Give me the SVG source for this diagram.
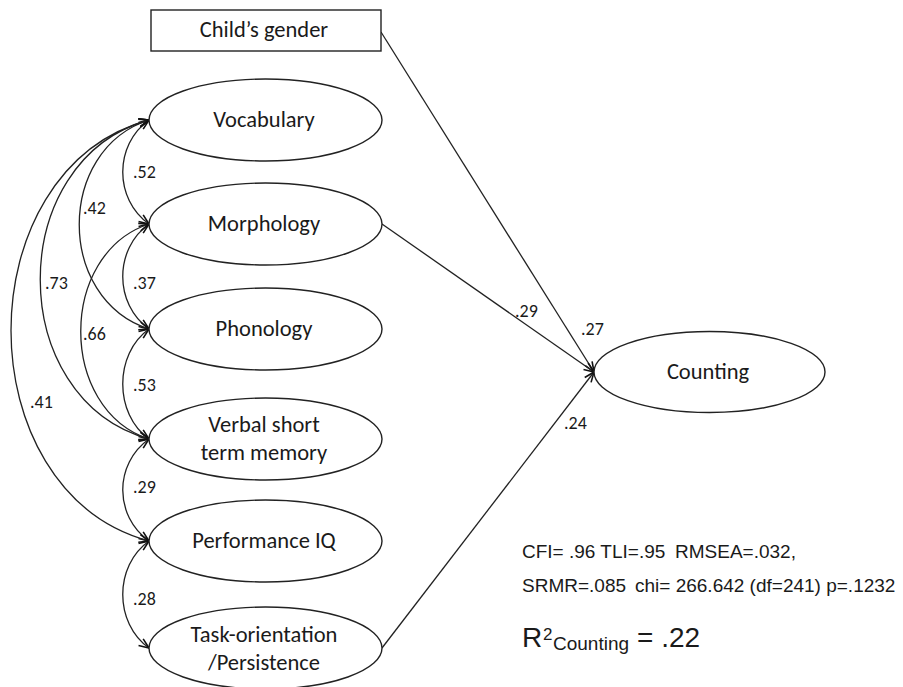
<svg xmlns="http://www.w3.org/2000/svg" width="903" height="687" viewBox="0 0 903 687">
<defs>
<style>
.node{fill:#fff;stroke:#222;stroke-width:1.4}
.lbl{font-family:Carlito,Lato,"Liberation Sans",sans-serif;font-size:22.5px;fill:#1a1a1a;text-anchor:middle}
.coef{font-family:Carlito,Lato,"Liberation Sans",sans-serif;font-size:18px;fill:#1a1a1a}
.stat{font-family:"Liberation Sans",Arial,sans-serif;font-size:19px;fill:#1a1a1a}
.con{fill:none;stroke:#222;stroke-width:1.3}
.dbl{marker-start:url(#ah);marker-end:url(#ah)}
.one{marker-end:url(#ah)}
</style>
<marker id="ah" viewBox="0 0 12 10" refX="11" refY="5" markerWidth="12" markerHeight="10" markerUnits="userSpaceOnUse" orient="auto-start-reverse">
<path d="M1,1 L11,5 L1,9" fill="none" stroke="#111" stroke-width="1.6"/>
</marker>
</defs>
<rect width="903" height="687" fill="#fff"/>

<g id="connectors">
<path class="con dbl" d="M149,120 C114,145 114,199 149,224"/>
<path class="con dbl" d="M149,224 C114,249 114,304 149,329"/>
<path class="con dbl" d="M149,329 C114,354 114,414 149,439"/>
<path class="con dbl" d="M149,439 C114,464 114,516 149,541"/>
<path class="con dbl" d="M149,541 C114,566 114,623 149,648"/>
<path class="con dbl" d="M149,120 C56,150 56,299 149,329"/>
<path class="con dbl" d="M149,224 C58,254 58,409 149,439"/>
<path class="con dbl" d="M149,120 C4,160 4,399 149,439"/>
<path class="con dbl" d="M149,120 C-35,170 -35,491 149,541"/>
<path class="con one" d="M381,32 L594,372"/>
<path class="con one" d="M382,224 L594,372"/>
<path class="con one" d="M382,648 L594,372"/>
</g>

<g id="n-gender">
<rect class="node" x="151" y="10" width="230" height="41"/>
<text class="lbl" x="264" y="37">Child’s gender</text>
</g>
<g id="n-vocabulary">
<ellipse class="node" cx="265.5" cy="120" rx="116.5" ry="41"/>
<text class="lbl" x="264" y="127">Vocabulary</text>
</g>
<g id="n-morphology">
<ellipse class="node" cx="265.5" cy="224" rx="116.5" ry="41"/>
<text class="lbl" x="264" y="231">Morphology</text>
</g>
<g id="n-phonology">
<ellipse class="node" cx="265.5" cy="329" rx="116.5" ry="41"/>
<text class="lbl" x="264" y="336">Phonology</text>
</g>
<g id="n-vstm">
<ellipse class="node" cx="265.5" cy="439" rx="116.5" ry="41"/>
<text class="lbl" x="264" y="432">Verbal short</text>
<text class="lbl" x="264" y="460">term memory</text>
</g>
<g id="n-piq">
<ellipse class="node" cx="265.5" cy="541" rx="116.5" ry="41"/>
<text class="lbl" x="264" y="548">Performance IQ</text>
</g>
<g id="n-task">
<ellipse class="node" cx="265.5" cy="648" rx="116.5" ry="41"/>
<text class="lbl" x="264" y="642">Task-orientation</text>
<text class="lbl" x="264" y="670">/Persistence</text>
</g>
<g id="n-counting">
<ellipse class="node" cx="709.5" cy="372" rx="115.5" ry="40.5"/>
<text class="lbl" x="708" y="379">Counting</text>
</g>

<g id="coefficients">
<text class="coef" x="133" y="178">.52</text>
<text class="coef" x="83" y="214">.42</text>
<text class="coef" x="133" y="289">.37</text>
<text class="coef" x="45" y="289">.73</text>
<text class="coef" x="83" y="340">.66</text>
<text class="coef" x="133" y="391">.53</text>
<text class="coef" x="30" y="408">.41</text>
<text class="coef" x="133" y="493">.29</text>
<text class="coef" x="133" y="605">.28</text>
<text class="coef" x="515" y="317">.29</text>
<text class="coef" x="581" y="335">.27</text>
<text class="coef" x="564" y="429">.24</text>
</g>

<g id="fit-stats">
<text class="stat" x="522" y="558">CFI= .96 TLI=.95</text>
<text class="stat" x="675" y="558">RMSEA=.032,</text>
<text class="stat" x="522" y="592">SRMR=.085</text>
<text class="stat" x="635" y="592">chi= 266.642 (df=241) p=.1232</text>
<text class="stat" x="522" y="647" style="font-size:28px">R</text>
<text class="stat" x="543" y="640" style="font-size:17px">2</text>
<text class="stat" x="553" y="650">Counting</text>
<text class="stat" x="637" y="647" style="font-size:28px">= .22</text>
</g>
</svg>
